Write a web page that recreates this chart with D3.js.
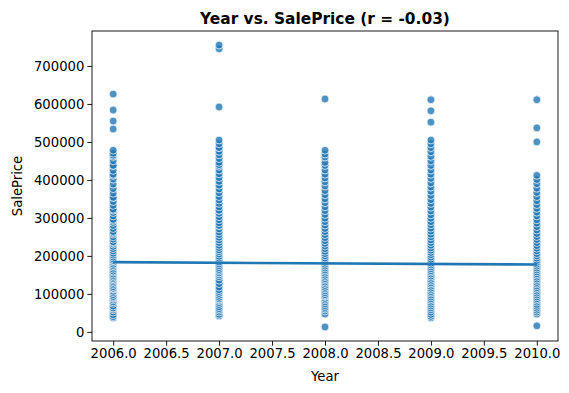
<!DOCTYPE html>
<html>
<head>
<meta charset="utf-8">
<script src="https://cdn.jsdelivr.net/npm/d3@7"></script>
<style>
  body { margin: 0; background: #fff; }
  text { font-family: 'DejaVu Sans', sans-serif; fill: #000; }
</style>
</head>
<body>
<div id="main"></div>
<script>
// data
const years = [2006, 2007, 2008, 2009, 2010];

const prices2006 = [37000, 40000, 45000, 52000, 58000, 62000, 63000, 68000, 75000, 79000, 84000, 88000, 90000, 93000, 98000, 103000, 107000, 112000, 114000, 115000, 119000, 124000, 128000, 132000, 136000, 140000, 140000, 144000, 148000, 152000, 157000, 160000, 165000, 170000, 174000, 178000, 183000, 187000, 188000, 192000, 197000, 202000, 207000, 213000, 219000, 225000, 231000, 235000, 237000, 244000, 250000, 257000, 261000, 264000, 272000, 280000, 288000, 293000, 296000, 305000, 314000, 320000, 323000, 333000, 343000, 354000, 354000, 365000, 377000, 389000, 402000, 412000, 415000, 425000, 438000, 438000, 450000, 462000, 465000, 470000, 478000, 534000, 555000, 584000, 626000];
const prices2007 = [42000, 46000, 52000, 57000, 61000, 66000, 72000, 77000, 82000, 85000, 87000, 91000, 96000, 101000, 106000, 111000, 118000, 127000, 136000, 145000, 150000, 155000, 155000, 160000, 164000, 169000, 174000, 179000, 184000, 189000, 194000, 199000, 205000, 211000, 216000, 222000, 228000, 235000, 242000, 249000, 256000, 263000, 271000, 279000, 280000, 287000, 295000, 303000, 312000, 320000, 320000, 329000, 338000, 347000, 356000, 366000, 376000, 386000, 396000, 406000, 416000, 426000, 436000, 440000, 446000, 456000, 466000, 475000, 485000, 485000, 495000, 505000, 592000, 745000, 755000];
const prices2008 = [13000, 47000, 55000, 60000, 64000, 69000, 74000, 79000, 84000, 88000, 93000, 95000, 98000, 103000, 108000, 113000, 117000, 122000, 127000, 131000, 136000, 140000, 145000, 149000, 154000, 159000, 163000, 168000, 173000, 178000, 183000, 188000, 194000, 200000, 206000, 212000, 219000, 226000, 233000, 240000, 248000, 256000, 264000, 272000, 281000, 290000, 299000, 309000, 319000, 329000, 340000, 350000, 361000, 372000, 384000, 395000, 405000, 415000, 426000, 438000, 446000, 460000, 468000, 478000, 613000];
const prices2009 = [37000, 41000, 46000, 52000, 58000, 63000, 68000, 73000, 78000, 83000, 87000, 92000, 97000, 102000, 106000, 111000, 115000, 120000, 125000, 129000, 134000, 138000, 143000, 147000, 152000, 157000, 161000, 166000, 171000, 176000, 181000, 186000, 191000, 197000, 203000, 209000, 215000, 221000, 228000, 235000, 242000, 250000, 257000, 265000, 273000, 282000, 290000, 299000, 308000, 318000, 328000, 338000, 348000, 359000, 370000, 381000, 392000, 404000, 415000, 426000, 438000, 450000, 462000, 474000, 485000, 495000, 505000, 552000, 582000, 611000];
const prices2010 = [16000, 47000, 52000, 57000, 62000, 67000, 72000, 78000, 83000, 87000, 92000, 97000, 102000, 107000, 112000, 116000, 121000, 126000, 130000, 135000, 139000, 144000, 149000, 153000, 158000, 163000, 168000, 173000, 178000, 183000, 188000, 194000, 200000, 206000, 213000, 220000, 227000, 235000, 243000, 251000, 259000, 268000, 277000, 286000, 295000, 305000, 315000, 325000, 335000, 345000, 356000, 367000, 378000, 390000, 401000, 412000, 500000, 537000, 611000];

// fitted regression line end points
const fitYears = [2006, 2010];
const fitPrices = [183500, 177200];

const xTicks = [2006, 2006.5, 2007, 2007.5, 2008, 2008.5, 2009, 2009.5, 2010];
const yTicks = [0, 100000, 200000, 300000, 400000, 500000, 600000, 700000];

// layout
const W = 569;
const H = 393;
const PLOT = { left: 92, right: 558, top: 31, bottom: 341 };
const BLUE = '#1f77b4';

const records = [];
[prices2006, prices2007, prices2008, prices2009, prices2010].forEach((arr, i) => {
  arr.forEach((p) => records.push({ year: years[i], price: p }));
});

const svg = d3
  .select('div#main')
  .append('svg')
  .attr('width', W)
  .attr('height', H);

const xScale = d3.scaleLinear().domain([2005.8, 2010.2]).range([PLOT.left, PLOT.right]);
const yScale = d3.scaleLinear().domain([-24000, 792000]).range([PLOT.bottom, PLOT.top]);

// points
svg
  .append('g')
  .selectAll('circle')
  .data(records)
  .enter()
  .append('circle')
  .attr('cx', (d) => xScale(d.year))
  .attr('cy', (d) => yScale(d.price))
  .attr('r', 3.9)
  .attr('fill', BLUE)
  .attr('fill-opacity', 0.8)
  .attr('stroke', '#fff')
  .attr('stroke-opacity', 0.8)
  .attr('stroke-width', 0.9);

// regression line
const fit = fitYears.map((y, i) => [y, fitPrices[i]]);
svg
  .append('path')
  .datum(fit)
  .attr('fill', 'none')
  .attr('stroke', BLUE)
  .attr('stroke-width', 2.6)
  .attr('d', d3.line().x((d) => xScale(d[0])).y((d) => yScale(d[1])));

// axes
const xAxis = svg
  .append('g')
  .attr('transform', `translate(0,${PLOT.bottom})`)
  .call(d3.axisBottom(xScale).tickValues(xTicks).tickFormat(d3.format('.1f')).tickSize(4.7).tickPadding(3));

const yAxis = svg
  .append('g')
  .attr('transform', `translate(${PLOT.left},0)`)
  .call(d3.axisLeft(yScale).tickValues(yTicks).tickFormat(d3.format('d')).tickSize(4.7).tickPadding(3));

[xAxis, yAxis].forEach((g) => {
  g.select('.domain').remove();
  g.selectAll('line').attr('stroke', '#000').attr('stroke-width', 0.9);
  g.selectAll('text').attr('font-size', 13.2).attr('font-family', 'DejaVu Sans');
});

// frame
svg
  .append('rect')
  .attr('x', PLOT.left)
  .attr('y', PLOT.top)
  .attr('width', PLOT.right - PLOT.left)
  .attr('height', PLOT.bottom - PLOT.top)
  .attr('fill', 'none')
  .attr('stroke', '#000')
  .attr('stroke-width', 0.9);

// labels
svg
  .append('text')
  .attr('x', (PLOT.left + PLOT.right) / 2)
  .attr('y', 24)
  .attr('text-anchor', 'middle')
  .attr('font-size', 15.4)
  .attr('font-weight', 'bold')
  .text('Year vs. SalePrice (r = -0.03)');

svg
  .append('text')
  .attr('x', (PLOT.left + PLOT.right) / 2)
  .attr('y', 381)
  .attr('text-anchor', 'middle')
  .attr('font-size', 13.2)
  .text('Year');

svg
  .append('text')
  .attr('transform', `translate(22,${(PLOT.top + PLOT.bottom) / 2}) rotate(-90)`)
  .attr('text-anchor', 'middle')
  .attr('font-size', 13.2)
  .text('SalePrice');
</script>
</body>
</html>
